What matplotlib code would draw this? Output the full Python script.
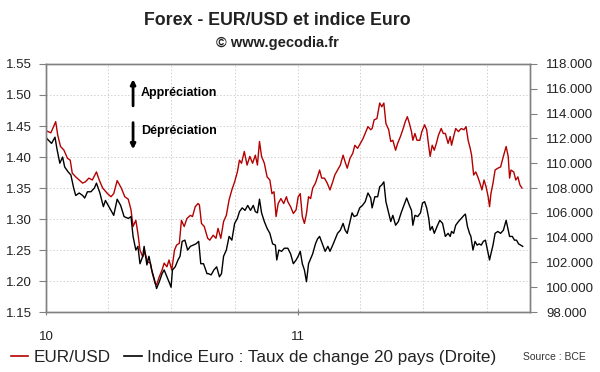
import pandas as pd
import numpy as np
import matplotlib
matplotlib.use('Agg')
import matplotlib.pyplot as plt
import matplotlib.dates as mdates
from matplotlib.lines import Line2D

plt.rcParams['font.family'] = ['Liberation Sans', 'DejaVu Sans']

# EUR/USD (left axis), days since 2010-01-01
eur_days = [1, 7, 14, 17, 21, 26, 31, 35, 38, 43, 48, 53, 57, 62, 67, 73, 77, 82, 89, 94,
            98, 103, 109, 114, 119, 123, 126, 130, 133, 136, 140, 143, 147, 151, 154, 158, 160,
            164, 168, 171, 175, 178, 182, 186, 189, 193, 196, 200, 204, 209, 212, 216, 220, 222,
            225, 229, 234, 237, 242, 246, 249, 253, 257, 261, 265, 269, 273, 277, 280, 283, 287,
            291, 295, 299, 303, 306, 309, 312, 316, 320, 324, 327, 330, 333, 336, 340, 344, 348,
            350, 354, 358, 362, 365, 368, 371, 374, 377, 380, 383, 386, 390, 393, 396, 399, 403,
            407, 411, 415, 418, 422, 426, 430, 433, 436, 440, 444, 447, 451, 455, 459, 462, 466,
            470, 472, 475, 479, 483, 486, 489, 492, 496, 499, 502, 506, 509, 513, 517, 520, 523,
            526, 529, 531, 534, 537, 541, 544, 548, 551, 554, 556, 559, 562, 565, 568, 572, 575,
            578, 582, 585, 587, 590, 593, 597, 601, 605, 608, 611, 614, 616, 619, 622, 625, 628,
            631, 634, 637, 640, 642, 644, 647, 650, 654, 658, 662, 666, 669, 671, 673, 677, 680,
            683, 686, 689]
eur_usd = [1.442, 1.439, 1.457, 1.435, 1.417, 1.411, 1.398, 1.395, 1.374, 1.368, 1.363, 1.358,
           1.360, 1.366, 1.363, 1.376, 1.363, 1.350, 1.341, 1.336, 1.341, 1.362, 1.350, 1.336,
           1.332, 1.315, 1.288, 1.298, 1.277, 1.250, 1.239, 1.247, 1.231, 1.229, 1.212, 1.196,
           1.194, 1.207, 1.218, 1.229, 1.223, 1.234, 1.218, 1.250, 1.258, 1.261, 1.298, 1.288,
           1.301, 1.306, 1.304, 1.320, 1.325, 1.323, 1.293, 1.288, 1.269, 1.266, 1.274, 1.269,
           1.285, 1.269, 1.296, 1.306, 1.331, 1.347, 1.360, 1.376, 1.395, 1.390, 1.409, 1.387,
           1.401, 1.390, 1.403, 1.387, 1.425, 1.401, 1.390, 1.368, 1.363, 1.341, 1.344, 1.304,
           1.325, 1.333, 1.325, 1.336, 1.328, 1.320, 1.309, 1.315, 1.336, 1.341, 1.304, 1.293,
           1.309, 1.336, 1.333, 1.350, 1.358, 1.368, 1.379, 1.366, 1.366, 1.358, 1.347, 1.360,
           1.371, 1.379, 1.387, 1.403, 1.392, 1.382, 1.398, 1.406, 1.419, 1.414, 1.422, 1.430,
           1.438, 1.449, 1.444, 1.446, 1.460, 1.462, 1.487, 1.481, 1.487, 1.454, 1.444, 1.425,
           1.427, 1.411, 1.422, 1.433, 1.446, 1.457, 1.465, 1.454, 1.441, 1.427, 1.438, 1.427,
           1.427, 1.441, 1.452, 1.444, 1.417, 1.401, 1.419, 1.411, 1.422, 1.435, 1.446, 1.438,
           1.438, 1.422, 1.433, 1.419, 1.433, 1.446, 1.441, 1.446, 1.444, 1.449, 1.427, 1.414,
           1.403, 1.371, 1.376, 1.368, 1.358, 1.347, 1.363, 1.352, 1.336, 1.320, 1.341, 1.358,
           1.379, 1.382, 1.384, 1.401, 1.417, 1.401, 1.366, 1.379, 1.376, 1.363, 1.368, 1.355,
           1.350]

# Indice Euro (right axis)
idx_days = [1, 8, 13, 16, 20, 24, 27, 32, 36, 40, 43, 48, 53, 56, 60, 65, 70, 73, 78, 83, 86,
            91, 98, 103, 108, 113, 119, 123, 126, 130, 133, 136, 140, 142, 146, 149, 153, 157,
            160, 164, 168, 171, 175, 179, 181, 183, 187, 191, 194, 197, 201, 205, 209, 213, 217,
            221, 224, 228, 233, 235, 239, 243, 247, 251, 254, 257, 261, 265, 269, 273, 277, 280,
            284, 288, 292, 296, 300, 303, 306, 309, 312, 316, 320, 324, 328, 332, 334, 337, 341,
            345, 350, 354, 358, 362, 365, 368, 371, 374, 377, 380, 383, 386, 390, 393, 396, 400,
            404, 408, 411, 415, 418, 422, 426, 430, 433, 436, 440, 443, 446, 450, 454, 458, 462,
            466, 470, 472, 476, 480, 483, 486, 489, 492, 496, 499, 502, 506, 510, 514, 518, 522,
            526, 529, 531, 534, 538, 542, 545, 548, 551, 554, 556, 559, 562, 566, 570, 574, 578,
            582, 585, 587, 590, 593, 597, 601, 605, 607, 610, 613, 615, 618, 621, 624, 627, 630,
            633, 636, 639, 642, 644, 647, 650, 654, 658, 662, 666, 669, 671, 675, 678, 681, 684,
            687, 690]
indice_euro = [112.0, 111.6, 112.1, 111.1, 110.0, 110.5, 109.7, 109.3, 109.05, 108.0, 107.4,
               107.6, 107.4, 107.2, 107.7, 107.7, 108.0, 108.4, 107.6, 106.5, 107.0, 106.5,
               105.8, 107.1, 106.6, 105.7, 105.55, 105.7, 104.1, 103.0, 103.3, 101.9, 102.5,
               103.3, 101.8, 102.5, 101.4, 100.6, 99.9, 100.45, 101.1, 101.4, 100.85, 100.3,
               100.0, 101.4, 101.65, 102.2, 102.5, 103.7, 103.8, 103.0, 103.3, 103.4, 103.5,
               103.7, 101.9, 101.9, 101.1, 101.1, 101.0, 101.4, 101.65, 100.85, 101.1, 102.5,
               103.0, 104.1, 103.8, 105.15, 105.55, 106.1, 106.4, 106.2, 106.6, 106.2, 106.6,
               106.1, 106.0, 107.1, 106.0, 105.3, 104.75, 104.35, 103.5, 103.4, 102.2, 103.0,
               102.9, 103.15, 103.15, 102.7, 101.9, 102.2, 102.5, 102.9, 101.9, 101.4, 100.45,
               101.9, 102.3, 102.7, 103.5, 103.9, 104.1, 103.5, 102.9, 103.3, 102.9, 103.4,
               103.8, 104.35, 104.6, 105.15, 104.6, 104.35, 105.3, 106.0, 105.7, 105.8, 106.4,
               106.6, 106.9, 107.6, 107.2, 106.4, 107.3, 107.3, 108.1, 108.25, 108.5, 106.9,
               106.0, 105.3, 105.8, 105.0, 105.3, 106.0, 106.6, 107.2, 106.6, 106.2, 105.0,
               105.8, 105.7, 106.0, 106.8, 106.9, 106.4, 105.55, 104.6, 104.9, 104.35, 104.9,
               105.4, 105.15, 104.1, 104.35, 104.1, 104.5, 104.35, 105.0, 105.3, 105.55, 105.8,
               105.9, 104.9, 104.35, 104.1, 103.0, 103.7, 103.4, 103.5, 103.4, 103.7, 103.8,
               103.0, 102.2, 102.7, 103.4, 104.35, 104.5, 104.35, 104.6, 105.4, 104.6, 104.1,
               104.1, 103.8, 103.8, 103.5, 103.4, 103.3]

start = pd.Timestamp('2010-01-01')
eur_dates = start + pd.to_timedelta(eur_days, unit='D')
idx_dates = start + pd.to_timedelta(idx_days, unit='D')

fig = plt.figure(figsize=(6, 3.72), dpi=100)
ax = fig.add_axes([0.0767, 0.161, 0.806, 0.667])
ax2 = ax.twinx()

red = '#b40000'
ax.plot(eur_dates, eur_usd, color=red, lw=1.0)
ax2.plot(idx_dates, indice_euro, color='black', lw=1.0)

ax.set_xlim(start, pd.Timestamp('2011-12-02'))
ax.set_ylim(1.15, 1.55)
ax.set_yticks(np.arange(1.15, 1.5501, 0.05))
ax.yaxis.set_major_formatter(matplotlib.ticker.FormatStrFormatter('%.2f'))
ax2.set_ylim(98, 118)
ax2.set_yticks(np.arange(98, 118.01, 2))
ax2.yaxis.set_major_formatter(matplotlib.ticker.FormatStrFormatter('%.3f'))

ax.xaxis.set_major_locator(mdates.YearLocator())
ax.xaxis.set_major_formatter(mdates.DateFormatter('%y'))
ax.xaxis.set_minor_locator(mdates.MonthLocator(bymonth=(4, 7, 10)))

ax.grid(True, which='both', color='#d0d0d0', linestyle=(0, (1.5, 2)), lw=0.7)
ax.set_axisbelow(True)

for a in (ax, ax2):
    for s in a.spines.values():
        s.set_color('#808080')
        s.set_linewidth(1.0)
ax.tick_params(axis='y', labelsize=9.5, length=5, color='#808080', pad=5, labelcolor='#222222')
ax2.tick_params(axis='y', labelsize=9.5, length=5, color='#808080', pad=7, labelcolor='#222222')
ax.tick_params(axis='x', which='major', labelsize=9.5, length=5, direction='inout',
               color='#808080', pad=11, labelcolor='#222222')
ax.tick_params(axis='x', which='minor', length=0)

# Appreciation / depreciation markers
ax.annotate('', xy=(0.18, 0.95), xytext=(0.18, 0.82), xycoords='axes fraction',
            arrowprops=dict(arrowstyle='-|>', color='black', lw=2, mutation_scale=7))
ax.annotate('', xy=(0.18, 0.645), xytext=(0.18, 0.775), xycoords='axes fraction',
            arrowprops=dict(arrowstyle='-|>', color='black', lw=2, mutation_scale=7))
ax.text(0.196, 0.883, 'Appréciation', transform=ax.transAxes, fontsize=9,
        fontweight='bold', va='center', ha='left')
ax.text(0.196, 0.73, 'Dépréciation', transform=ax.transAxes, fontsize=9,
        fontweight='bold', va='center', ha='left')

fig.text(0.463, 0.945, 'Forex - EUR/USD et indice Euro', ha='center', va='center',
         fontsize=12.8, fontweight='bold', color='#222222')
fig.text(0.463, 0.885, '© www.gecodia.fr', ha='center', va='center',
         fontsize=10.5, fontweight='bold', color='#222222')

handles = [Line2D([], [], color=red, lw=1.2), Line2D([], [], color='black', lw=1.2)]
fig.legend(handles, ['EUR/USD', 'Indice Euro : Taux de change 20 pays (Droite)'],
           loc='center left', bbox_to_anchor=(-0.008, 0.04), ncol=2, frameon=False,
           fontsize=12.3, handlelength=1.0, handletextpad=0.35, columnspacing=0.8,
           labelcolor='#222222')
fig.text(0.977, 0.04, 'Source : BCE', ha='right', va='center', fontsize=7.5, color='#333333')

plt.savefig('out.png', dpi=100)
plt.close()
